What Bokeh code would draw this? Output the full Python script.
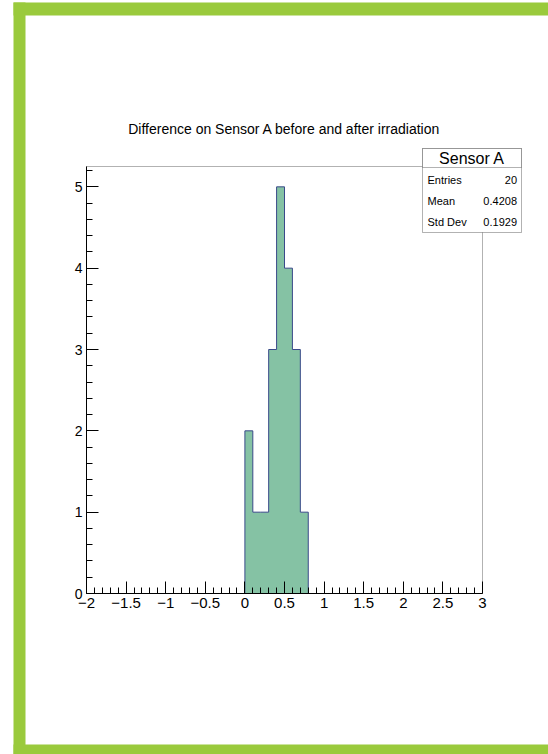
from bokeh.plotting import figure
from bokeh.models import Range1d, FixedTicker, BoxAnnotation, Label
from bokeh.embed import file_html
from bokeh.resources import INLINE

# Histogram contents (only the non-empty bins; all others are zero)
bin_low = [0.0, 0.1, 0.2, 0.3, 0.4, 0.5, 0.6, 0.7]
bin_counts = [2, 1, 1, 3, 5, 4, 3, 1]
bin_width = 0.1

# Axis ticks
x_ticks = [-2, -1.5, -1, -0.5, 0, 0.5, 1, 1.5, 2, 2.5, 3]
x_tick_labels = ["\u22122", "\u22121.5", "\u22121", "\u22120.5", "0", "0.5", "1", "1.5", "2", "2.5", "3"]
y_ticks = [0, 1, 2, 3, 4, 5]

# Texts
title_text = "Difference on Sensor A before and after irradiation"
stats_name = "Sensor A"
stats_labels = ["Entries", "Mean", "Std Dev"]
stats_values = ["20", "0.4208", "0.1929"]

FONT = "Liberation Sans"
FILL = "#85c2a4"
EDGE = "#3a4a8a"
GREEN = "#9aca3c"

W, H = 548, 754
X0, X1 = -2.0, 3.0          # histogram axis range
Y0, Y1 = 0.0, 5.25          # vertical axis range
FL, FR, FT, FB = 86, 482, 166, 593  # pixel box of the histogram frame

# The plot frame covers the whole canvas; the ranges are widened so that the
# histogram box lands at FL..FR / FT..FB and the surrounding page can be drawn too.
sx = (FR - FL) / (X1 - X0)
sy = (FB - FT) / (Y1 - Y0)
x_range = Range1d(X0 - FL / sx, X1 + (W - FR) / sx)
y_range = Range1d(Y0 - (H - FB) / sy, Y1 + FT / sy)

p = figure(width=W, height=H, output_backend="svg", toolbar_location=None,
           x_range=x_range, y_range=y_range,
           min_border_left=0, min_border_right=0, min_border_top=0, min_border_bottom=0)
p.xgrid.visible = False
p.ygrid.visible = False
p.outline_line_color = None
p.background_fill_color = "white"
p.border_fill_color = "white"

x_minor = [round(-2 + 0.1 * i, 1) for i in range(51)]
x_minor = [v for v in x_minor if all(abs(v - t) > 1e-9 for t in x_ticks)]
y_minor = [round(0.2 * i, 1) for i in range(27)]
y_minor = [v for v in y_minor if all(abs(v - t) > 1e-9 for t in y_ticks)]

p.xaxis.ticker = FixedTicker(ticks=x_ticks, minor_ticks=x_minor)
p.yaxis.ticker = FixedTicker(ticks=y_ticks, minor_ticks=y_minor)
p.xaxis.major_label_overrides = {float(t): s for t, s in zip(x_ticks, x_tick_labels)}
p.xaxis.fixed_location = Y0
p.yaxis.fixed_location = X0
p.xaxis.bounds = (X0, X1)
p.yaxis.bounds = (Y0, Y1)
for ax in (p.xaxis[0], p.yaxis[0]):
    ax.axis_line_color = "black"
    ax.major_tick_line_color = "black"
    ax.minor_tick_line_color = "black"
    ax.major_tick_in = 12
    ax.major_tick_out = 0
    ax.minor_tick_in = 6
    ax.minor_tick_out = 0
    ax.major_label_text_font = FONT
    ax.major_label_text_color = "black"
p.xaxis.major_label_text_font_size = "15px"
p.yaxis.major_label_text_font_size = "14px"
p.xaxis.major_label_standoff = 4
p.yaxis.major_label_standoff = 4

# Histogram body as a single step polygon
bin_high = [lo + bin_width for lo in bin_low]
xs, ys = [bin_low[0]], [0]
for lo, hi, c in zip(bin_low, bin_high, bin_counts):
    xs += [lo, hi]
    ys += [c, c]
xs.append(bin_high[-1])
ys.append(0)
p.patch(xs, ys, fill_color=FILL, line_color=None)
p.line(xs, ys, line_color=EDGE, line_width=1)

# Histogram frame
p.add_layout(BoxAnnotation(left=X0, right=X1, bottom=Y0, top=Y1,
                           fill_alpha=0, line_color="black", line_width=1))

# Title
p.add_layout(Label(x=(FL + FR) / 2, y=H - 128, x_units="screen", y_units="screen",
                   text=title_text, text_font=FONT, text_font_size="14px",
                   text_align="center", text_baseline="middle", text_color="black"))

# Statistics box
SL, SR, ST, SB, SH = 422, 521, 148, 232, 167
p.add_layout(BoxAnnotation(left=SL, right=SR, top=ST, bottom=SB,
                           left_units="canvas", right_units="canvas",
                           top_units="canvas", bottom_units="canvas",
                           fill_color="white", fill_alpha=1,
                           line_color="black", line_width=1))
p.add_layout(BoxAnnotation(left=SL, right=SR, top=ST, bottom=SH,
                           left_units="canvas", right_units="canvas",
                           top_units="canvas", bottom_units="canvas",
                           fill_color="white", fill_alpha=1,
                           line_color="black", line_width=1))
p.add_layout(Label(x=(SL + SR) / 2, y=H - 157.5, x_units="screen", y_units="screen",
                   text=stats_name, text_font=FONT, text_font_size="16px",
                   text_align="center", text_baseline="middle", text_color="black"))
for i, (name, val) in enumerate(zip(stats_labels, stats_values)):
    yy = H - (179.5 + 21 * i)
    p.add_layout(Label(x=SL + 5, y=yy, x_units="screen", y_units="screen",
                       text=name, text_font=FONT, text_font_size="11px",
                       text_align="left", text_baseline="middle", text_color="black"))
    p.add_layout(Label(x=SR - 4.5, y=yy, x_units="screen", y_units="screen",
                       text=val, text_font=FONT, text_font_size="11px",
                       text_align="right", text_baseline="middle", text_color="black"))

# Green page border
for l, r, t, b in [(13, 25, 2, H), (13, W, 2, 15), (13, W, 744, H)]:
    p.add_layout(BoxAnnotation(left=l, right=r, top=t, bottom=b,
                               left_units="canvas", right_units="canvas",
                               top_units="canvas", bottom_units="canvas",
                               fill_color=GREEN, fill_alpha=1, line_color=None))

open("out.html", "w").write(file_html(p, INLINE))
